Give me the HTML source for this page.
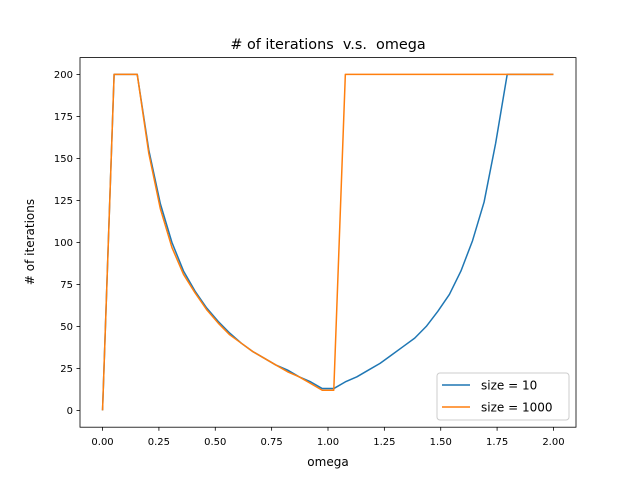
<!DOCTYPE html>
<html><head><meta charset="utf-8"><style>
body{margin:0;background:#fff}
svg{display:block;font-family:"DejaVu Sans","Liberation Sans",sans-serif}
</style></head><body>
<svg id="chart" width="640" height="480">
<rect x="0" y="0" width="640" height="480" fill="#fff"/>
<text x="328" y="49" text-anchor="middle" font-size="14.4" style="white-space:pre"># of iterations  v.s.  omega</text>
<g id="plot"></g>
<rect x="80" y="57.6" width="496" height="369.6" fill="none" stroke="#000" stroke-width="0.8"/>
<g id="xt"></g><g id="yt"></g>
<text x="328" y="466" text-anchor="middle" font-size="12">omega</text>
<text transform="translate(34,242) rotate(-90)" text-anchor="middle" font-size="12"># of iterations</text>
<g>
<rect x="437" y="373" width="132" height="47" rx="3" fill="#fff" fill-opacity="0.8" stroke="#ccc" stroke-width="1"/>
<g><line x1="442" y1="385" x2="470" y2="385" stroke="#1f77b4" stroke-width="1.5"/><text x="481" y="389.5" font-size="12">size = 10</text></g>
<g><line x1="442" y1="407" x2="470" y2="407" stroke="#ff7f0e" stroke-width="1.5"/><text x="481" y="411.5" font-size="12">size = 1000</text></g>
</g>
</svg>
<script>
const omegaCount = 40;
const size10 = [0,200,200,200,155,123,100,83,71,61,53,46,40,35,31,27,24,20,17,13,13,17,20,24,28,33,38,43,50,59,69,83,101,124,159,200,200,200,200,200];
const size1000 = [0,200,200,200,153,120,97,81,70,60,52,45,40,35,31,27,23,20,16,12,12,200,200,200,200,200,200,200,200,200,200,200,200,200,200,200,200,200,200,200];
const xTicks = [0,0.25,0.5,0.75,1.0,1.25,1.5,1.75,2.0];
const xTickLabels = ["0.00","0.25","0.50","0.75","1.00","1.25","1.50","1.75","2.00"];
const yTicks = [0,25,50,75,100,125,150,175,200];
const NS="http://www.w3.org/2000/svg";
const X=v=>80+(v+0.1)/2.2*496;
const Y=v=>427.2-(v+10)/220*369.6;
const omega=[];for(let i=0;i<omegaCount;i++)omega.push(2*i/(omegaCount-1));
function mk(t,a,p){const e=document.createElementNS(NS,t);for(const k in a)e.setAttribute(k,a[k]);p.appendChild(e);return e;}
const plot=document.getElementById('plot');
[[size10,'#1f77b4','series-size-10'],[size1000,'#ff7f0e','series-size-1000']].forEach(([d,c,n])=>{
 const p=mk('polyline',{points:d.map((v,i)=>X(omega[i])+','+Y(v)).join(' '),fill:'none',stroke:c,'stroke-width':1.5,'stroke-linejoin':'round'},plot);
 
 
});
const xt=document.getElementById('xt');
xTicks.forEach((v,i)=>{
 const g=mk('g',{},xt);
 
 
 mk('line',{x1:X(v),x2:X(v),y1:427.2,y2:430.7,stroke:'#000','stroke-width':0.8},g);
 const t=mk('text',{x:X(v),y:445,'text-anchor':'middle','font-size':10},g);t.textContent=xTickLabels[i];
});
const yt=document.getElementById('yt');
yTicks.forEach(v=>{
 const g=mk('g',{},yt);
 
 
 mk('line',{x1:76.5,x2:80,y1:Y(v),y2:Y(v),stroke:'#000','stroke-width':0.8},g);
 const t=mk('text',{x:73,y:Y(v)+3.6,'text-anchor':'end','font-size':10},g);t.textContent=v;
});
</script>
</body></html>
